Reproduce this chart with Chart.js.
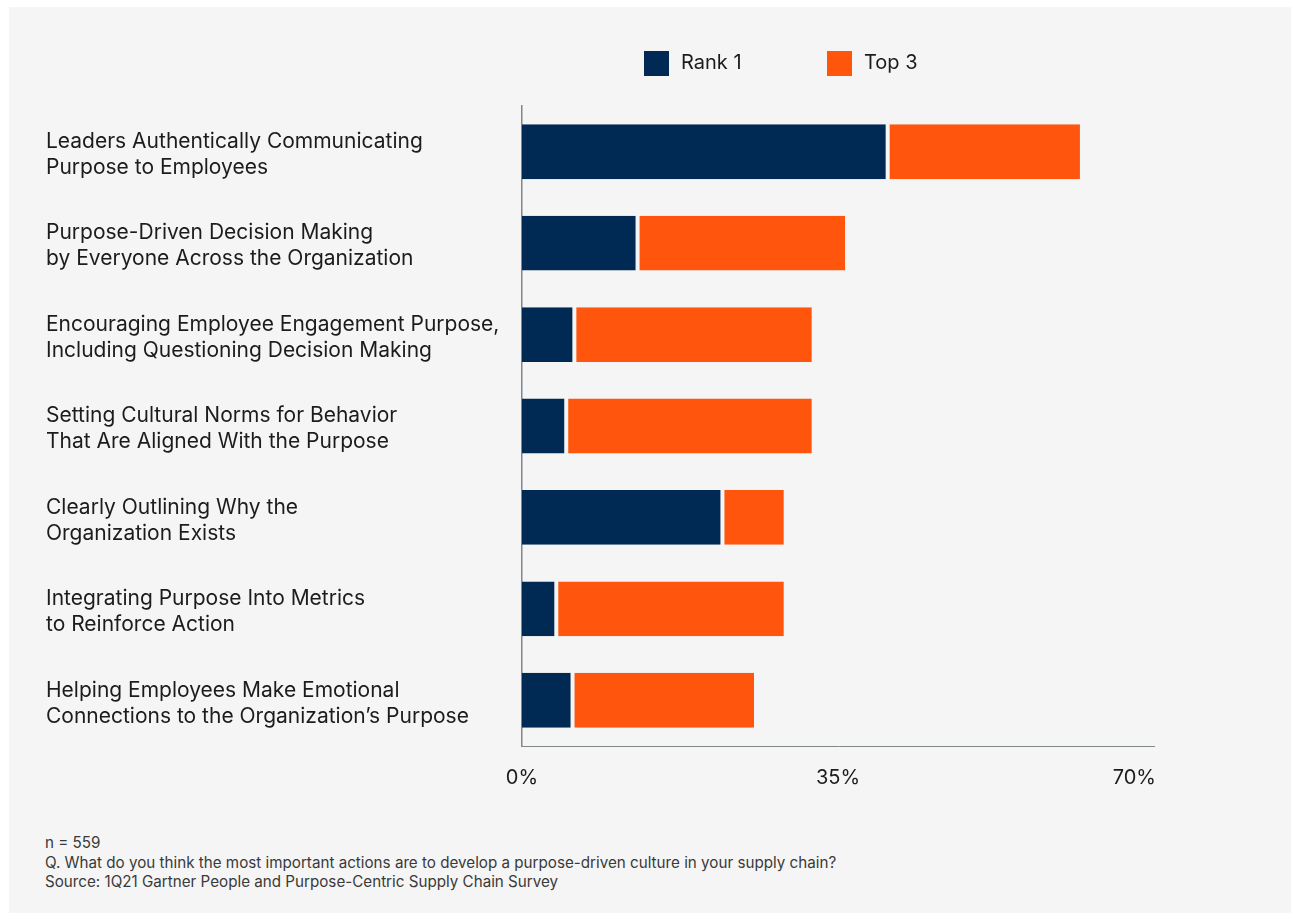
<!DOCTYPE html>
<html lang="en">
<head>
    <meta charset="UTF-8">
    <title>Purpose-driven culture actions</title>
    <script src="https://cdn.jsdelivr.net/npm/chart.js@4.4.1/dist/chart.umd.min.js"></script>
    <style>
        body { margin: 0; background: #ffffff; font-family: Inter, "Noto Sans", sans-serif; }
        #panel { position: absolute; left: 9px; top: 7px; right: 0; bottom: 0; width: 1282px; height: 906px; background: #f5f5f5; }
        #chart { position: absolute; left: 0; top: 0; }
        #notes { position: absolute; left: 45px; top: 833px; font-size: 15.2px; line-height: 19.5px; color: #3a3a3a; }
    </style>
</head>
<body>
<div id="panel"></div>
<canvas id="chart" width="1291" height="800"></canvas>
<div id="notes">
    <div>n = 559</div>
    <div>Q. What do you think the most important actions are to develop a purpose-driven culture in your supply chain?</div>
    <div>Source: 1Q21 Gartner People and Purpose-Centric Supply Chain Survey</div>
</div>

<script>
    const categories = [
        ['Leaders Authentically Communicating', 'Purpose to Employees'],
        ['Purpose-Driven Decision Making', 'by Everyone Across the Organization'],
        ['Encouraging Employee Engagement Purpose,', 'Including Questioning Decision Making'],
        ['Setting Cultural Norms for Behavior', 'That Are Aligned With the Purpose'],
        ['Clearly Outlining Why the', 'Organization Exists'],
        ['Integrating Purpose Into Metrics', 'to Reinforce Action'],
        ['Helping Employees Make Emotional', 'Connections to the Organization\u2019s Purpose']
    ];
    // share ranking the action first, and the extra share placing it in the top 3
    const rank1 = [40.5, 12.8, 5.8, 4.9, 22.2, 3.8, 5.6];
    const top3 = [21.3, 23.0, 26.3, 27.2, 6.8, 25.2, 20.1];
    const xTicks = [0, 35, 70];

    const NAVY = '#002954';
    const ORANGE = '#ff550d';
    const BG = '#f5f5f5';
    const INK = '#1c1c1c';
    const FONT = 'Inter, "Noto Sans", sans-serif';

    // legend drawn above the plot, left to right from a fixed start
    const topLegend = {
        id: 'topLegend',
        afterDraw(chart) {
            const ctx = chart.ctx;
            const starts = [644, 827];
            ctx.save();
            ctx.font = '20px ' + FONT;
            ctx.textBaseline = 'middle';
            chart.data.datasets.forEach((ds, i) => {
                ctx.fillStyle = ds.backgroundColor;
                ctx.fillRect(starts[i], 51, 25, 25);
                ctx.fillStyle = INK;
                ctx.fillText(ds.label, starts[i] + 37, 63);
            });
            ctx.restore();
        }
    };

    new Chart(document.getElementById('chart'), {
        type: 'bar',
        data: {
            labels: categories,
            datasets: [
                {
                    label: 'Rank 1',
                    data: rank1,
                    backgroundColor: NAVY,
                    borderColor: BG,
                    borderWidth: {top: 0, right: 2, bottom: 0, left: 0},
                    borderSkipped: false
                },
                {
                    label: 'Top 3',
                    data: top3,
                    backgroundColor: ORANGE,
                    borderColor: BG,
                    borderWidth: {top: 0, right: 0, bottom: 0, left: 2},
                    borderSkipped: false
                }
            ]
        },
        options: {
            indexAxis: 'y',
            responsive: false,
            animation: false,
            barPercentage: 1,
            categoryPercentage: 0.6,
            layout: {padding: {top: 106, left: 46, right: 137, bottom: 4}},
            plugins: {
                legend: {display: false},
                tooltip: {enabled: false}
            },
            scales: {
                x: {
                    stacked: true,
                    min: 0,
                    max: 70,
                    afterBuildTicks: scale => {
                        scale.ticks = xTicks.map(v => ({value: v}));
                    },
                    afterFit: scale => { scale.height = 50; },
                    grid: {display: false, drawTicks: false},
                    border: {display: true, color: '#80878b', width: 1},
                    ticks: {
                        color: INK,
                        font: {family: FONT, size: 20},
                        padding: 20,
                        maxRotation: 0,
                        // last label sits flush with the axis end
                        callback: v => v === 70 ? v + '%\u00a0\u00a0\u00a0\u00a0\u00a0\u00a0\u00a0' : v + '%'
                    }
                },
                y: {
                    stacked: true,
                    afterFit: scale => { scale.width = 476; },
                    grid: {display: false, drawTicks: false},
                    border: {display: true, color: '#80878b', width: 1.5},
                    ticks: {
                        color: INK,
                        crossAlign: 'far',
                        labelOffset: 3,
                        font: {family: FONT, size: 21, lineHeight: 1.24}
                    }
                }
            }
        },
        plugins: [topLegend]
    });
</script>
</body>
</html>
